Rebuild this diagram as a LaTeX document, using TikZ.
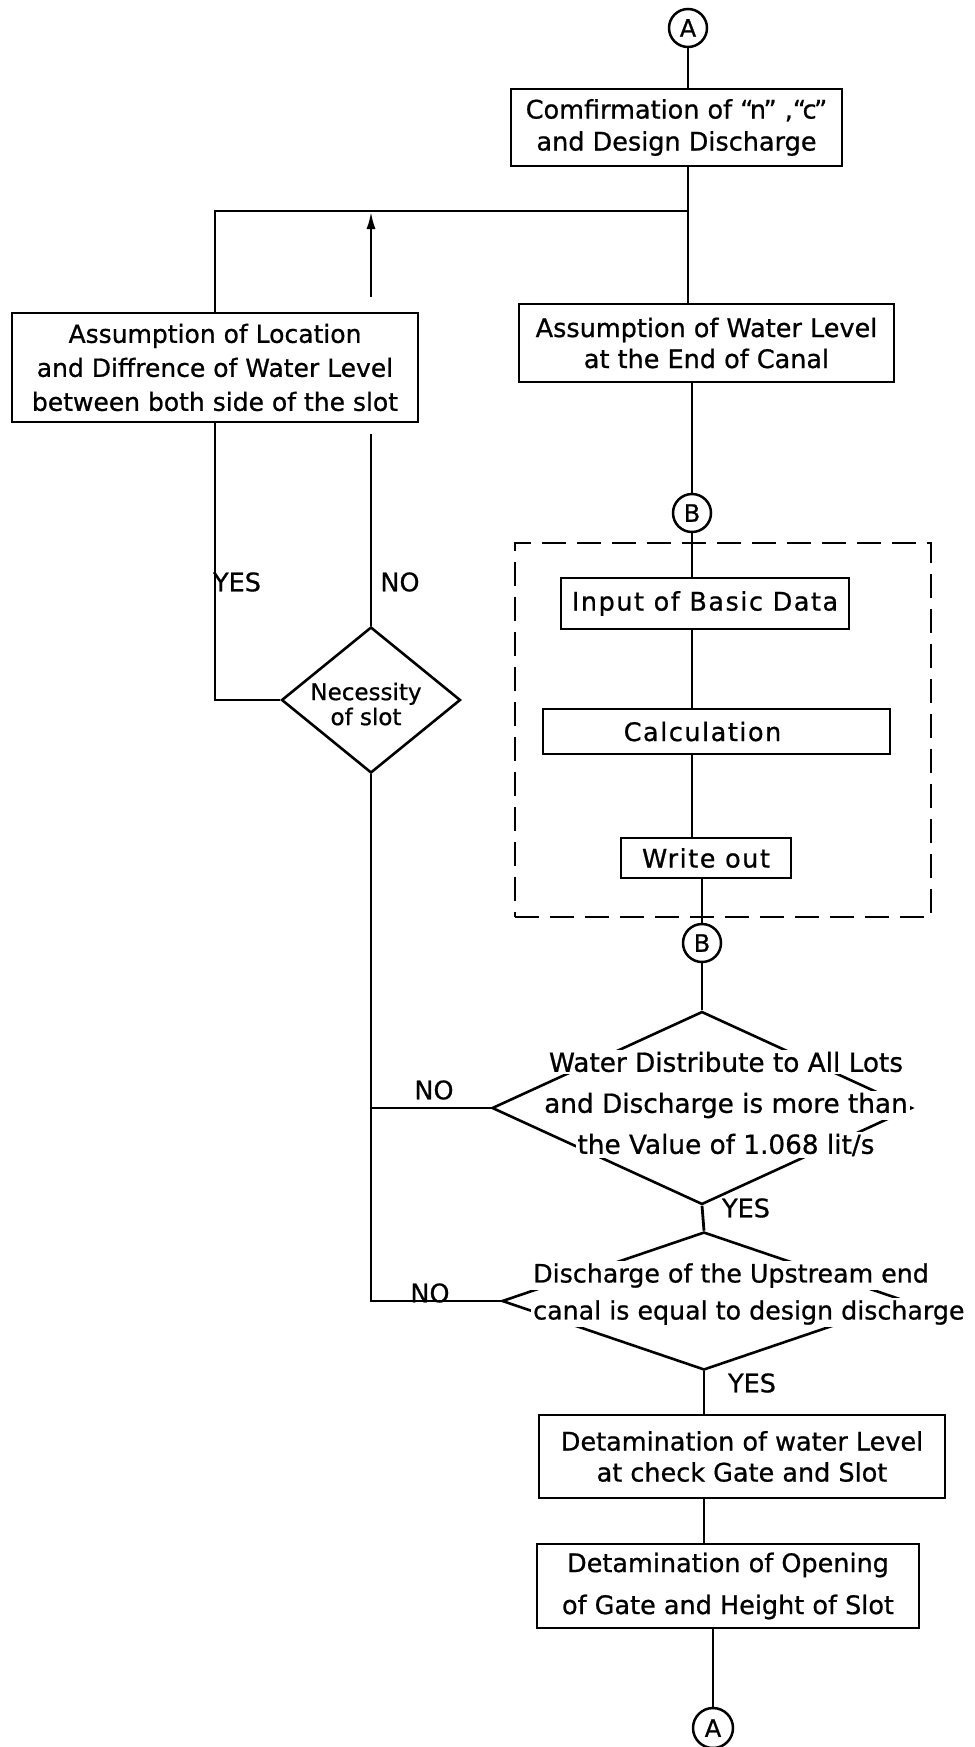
\documentclass[tikz,border=0pt]{standalone}
\usepackage{fontspec}
\setmainfont[FakeBold=0.8]{DejaVu Sans}
\newfontfamily\spaced[LetterSpace=6,FakeBold=0.8]{DejaVu Sans}
\usetikzlibrary{shapes.geometric,arrows.meta,calc}
\newcommand\qmark[1]{\textquotedblleft\kern-.14em#1\kern-.1em\textquotedblright}
\newcommand\wl[1]{{\setlength\fboxsep{2pt}\colorbox{white}{#1}}}
\begin{document}
\begin{tikzpicture}[x=1pt,y=-1pt,
  every node/.style={font=\fontsize{25.5}{33}\selectfont},
  ln/.style={line width=2.8pt},
  procbox/.style={draw, line width=2.5pt, align=center, inner sep=0pt, fill=white},
  conn/.style={draw, circle, line width=2.5pt, minimum size=38pt, inner sep=0pt, font=\fontsize{24}{24}\selectfont},
  dec/.style={draw, diamond, line width=2.6pt, inner sep=0pt},
  lbl/.style={inner sep=0pt, anchor=center},
  dtext/.style={align=center, inner sep=0pt}
]
\fill[white] (0,0) rectangle (974,1747);
\useasboundingbox (0,0) rectangle (974,1747);

% group frame
\node[draw, line width=2.4pt, dash pattern=on 24pt off 11pt, minimum width=416pt, minimum height=374pt, inner sep=0pt] (grp) at (723,730) {};

% nodes
\node[conn] (A1) at (688,28) {A};
\node[procbox, minimum width=331pt, minimum height=77pt, font=\fontsize{25.5}{32}\selectfont] (b1) at (676.5,127.5) {Comfirmation of \qmark{n} ,\qmark{c}\\and Design Discharge};
\node[procbox, minimum width=375pt, minimum height=78pt, font=\fontsize{25.5}{31}\selectfont] (b2) at (706.5,343) {Assumption of Water Level\\at the End of Canal};
\node[procbox, minimum width=406pt, minimum height=109pt, font=\fontsize{25}{34}\selectfont] (lb) at (215,367.5) {Assumption of Location\\and Diffrence of Water Level\\between both side of the slot};
\node[conn] (B1) at (692,513) {B};
\node[procbox, minimum width=288pt, minimum height=51pt] (inp) at (705,603.5) {\spaced Input of Basic Data};
\node[procbox, minimum width=347pt, minimum height=45pt] (calc) at (716.5,731.5) {{\spaced Calculation}\rule{28pt}{0pt}};
\node[procbox, minimum width=170pt, minimum height=40pt] (wo) at (706,858) {\spaced Write out};
\node[conn] (B2) at (702,943) {B};

\node[dec, minimum width=420pt, minimum height=193pt] (d1) at (702,1108) {};
\node[dtext, font=\fontsize{26.3}{41}\selectfont] (d1t) at (726,1104) {\wl{Water Distribute to All Lots}\\\wl{and Discharge is more than}\\\wl{the Value of 1.068 lit/s}};

\node[dec, minimum width=404pt, minimum height=138pt] (d2) at (704,1301) {};
\node[dtext, align=left, anchor=west, font=\fontsize{25.3}{37}\selectfont] (d2t) at (531,1294) {\wl{Discharge of the Upstream end}\\\wl{canal is equal to design discharge}};

\node[procbox, minimum width=406pt, minimum height=83pt, font=\fontsize{25.5}{31}\selectfont] (b5) at (742,1456.5) {Detamination of water Level\\at check Gate and Slot};
\node[procbox, minimum width=382pt, minimum height=84pt, font=\fontsize{25.5}{42}\selectfont] (b6) at (728,1586) {Detamination of Opening\\of Gate and Height of Slot};
\node[conn, minimum size=40pt] (A2) at (713,1728) {A};

\node[dec, minimum width=179pt, minimum height=146pt] (nec) at (371,700) {};
\node[dtext, font=\fontsize{23}{25}\selectfont] (nect) at (366,704) {Necessity\\of slot};

% labels
\node[lbl] (yes1) at (237,582) {YES};
\node[lbl] (no1) at (400,582) {NO};
\node[lbl] (no2) at (434,1090) {NO};
\node[lbl] (no3) at (430,1293) {NO};
\node[lbl] (yes2) at (746,1208) {YES};
\node[lbl] (yes3) at (752,1383) {YES};

\coordinate (J) at (688,211);

% main column
\draw[ln] (A1.south) -- (A1.south |- b1.north);
\draw[ln] (b1.south -| A1) -- (A1 |- b2.north);
\draw[ln] (b2.south -| B1) -- (B1.north);
\draw[ln] (B1.south) -- (B1.south |- inp.north);
\draw[ln] (inp.south -| B1) -- (B1 |- calc.north);
\draw[ln] (calc.south -| B1) -- (B1 |- wo.north);
\draw[ln] (wo.south -| B2) -- (B2.north);
\draw[ln] (B2.south) -- (d1.north);
\draw[ln] (d1.south) -- (d2.north);
\draw[ln] (d2.south) -- (d2.south |- b5.north);
\draw[ln] (d2.south |- b5.south) -- (d2.south |- b6.north);
\draw[ln] (b6.south -| A2) -- (A2.north);

% left loop
\draw[ln] (J) -- (lb.north |- J) -- (lb.north);
\draw[ln] (lb.south) -- (lb.south |- nec.west) -- (nec.west);
\draw[ln] (nec.north) -- ($(lb.south -| nec.north)+(0,11)$);
\draw[ln, -{Latex[length=18pt,width=9pt]}] ($(lb.north -| nec.north)+(0,-15)$) -- (nec.north |- J);

% NO returns
\draw[ln] (d1.west) -- (d1.west -| nec.south);
\draw[ln] (nec.south) -- (nec.south |- d2.west) -- (d2.west);
\end{tikzpicture}
\end{document}
